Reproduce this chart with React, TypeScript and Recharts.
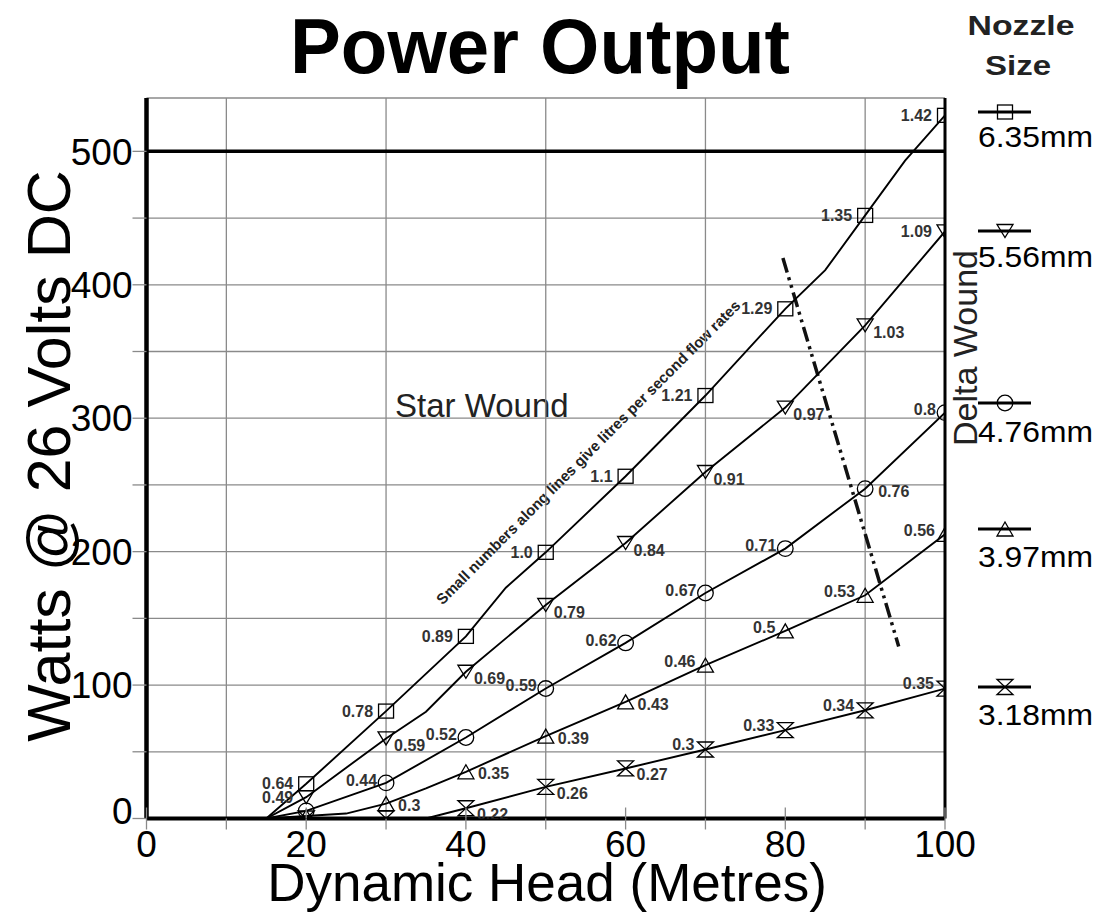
import React from "react";
import {
  CartesianGrid,
  ComposedChart,
  Line,
  ReferenceLine,
  Scatter,
  XAxis,
  YAxis,
} from "recharts";

// head (metres) where the flow markers sit
const HEAD = [20, 30, 40, 50, 60, 70, 80, 90, 100];

// 6.35mm nozzle
const WATTS_635 = [26, 80.5, 136.5, 199.5, 256.5, 317, 382, 452, 527];
const FLOW_635 = ["0.64", "0.78", "0.89", "1.0", "1.1", "1.21", "1.29", "1.35", "1.42"];
const CURVE_HEAD_635 = [15, 20, 30, 40, 45, 50, 60, 70, 80, 85, 90, 95, 100];
const CURVE_WATTS_635 = [0, 26, 80.5, 136.5, 173, 199.5, 256.5, 317, 382, 411, 452, 493, 527];

// 5.56mm nozzle
const WATTS_556 = [16, 60, 110, 160, 206.5, 259.7, 308, 369.6, 440];
const FLOW_556 = ["0.49", "0.59", "0.69", "0.79", "0.84", "0.91", "0.97", "1.03", "1.09"];
const CURVE_HEAD_556 = [15, 20, 30, 35, 40, 50, 60, 70, 80, 90, 100];
const CURVE_WATTS_556 = [0, 16, 60, 80, 110, 160, 206.5, 259.7, 308, 369.6, 440];

// 4.76mm nozzle
const WATTS_476 = [5.7, 26.7, 60.7, 97.4, 131.6, 169, 202.3, 247.2, 304.2];
const FLOW_476 = ["", "0.44", "0.52", "0.59", "0.62", "0.67", "0.71", "0.76", "0.8"];
const CURVE_HEAD_476 = [15, 20, 30, 40, 50, 60, 70, 80, 90, 100];
const CURVE_WATTS_476 = [0, 5.7, 26.7, 60.7, 97.4, 131.6, 169, 202.3, 247.2, 304.2];

// 3.97mm nozzle
const WATTS_397 = [1.5, 11.2, 35, 61.7, 87.4, 114.9, 140.6, 167.3, 213];
const FLOW_397 = ["", "0.3", "0.35", "0.39", "0.43", "0.46", "0.5", "0.53", "0.56"];
const CURVE_HEAD_397 = [15, 25, 30, 35, 40, 50, 60, 70, 80, 90, 100];
const CURVE_WATTS_397 = [0, 3.7, 11.2, 22.5, 35, 61.7, 87.4, 114.9, 140.6, 167.3, 213];

// 3.18mm nozzle
const WATTS_318 = [0, 0, 7.7, 23.7, 37.5, 51.7, 66.2, 81.1, 97.4];
const FLOW_318 = ["", "", "0.22", "0.26", "0.27", "0.3", "0.33", "0.34", "0.35"];
const CURVE_HEAD_318 = [35, 40, 50, 60, 70, 80, 90, 100];
const CURVE_WATTS_318 = [0, 7.7, 23.7, 37.5, 51.7, 66.2, 81.1, 97.4];

const X_TICKS = [0, 10, 20, 30, 40, 50, 60, 70, 80, 90, 100];
const X_GRID = [10, 30, 50, 70, 90];
const Y_TICKS = [0, 50, 100, 150, 200, 250, 300, 350, 400, 450, 500];

// star / delta wound split line
const SPLIT_HEAD = [79.7, 94.2];
const SPLIT_WATTS = [420, 129];

const FONT = "'Liberation Sans', Arial, Helvetica, sans-serif";
const GRID = "#8a8a8a";

type Kind = "square" | "down" | "circle" | "up" | "bowtie";

// label side per marker and offsets (layout only)
const SERIES = [
  { name: "6.35mm", kind: "square" as Kind, head: CURVE_HEAD_635, watts: CURVE_WATTS_635, marks: WATTS_635, flow: FLOW_635, sides: "LLLLLLLLL", L: [-13, 0], R: [10, 0], legendY: 112, textY: 147 },
  { name: "5.56mm", kind: "down" as Kind, head: CURVE_HEAD_556, watts: CURVE_WATTS_556, marks: WATTS_556, flow: FLOW_556, sides: "LRRRRRRRL", L: [-13, 0], R: [8, 7], legendY: 231, textY: 267 },
  { name: "4.76mm", kind: "circle" as Kind, head: CURVE_HEAD_476, watts: CURVE_WATTS_476, marks: WATTS_476, flow: FLOW_476, sides: "LLLLLLLRL", L: [-9, -3], R: [13, 3], legendY: 403, textY: 442 },
  { name: "3.97mm", kind: "up" as Kind, head: CURVE_HEAD_397, watts: CURVE_WATTS_397, marks: WATTS_397, flow: FLOW_397, sides: "RRRRRLLLL", L: [-10, -4], R: [12, 2], legendY: 529, textY: 567 },
  { name: "3.18mm", kind: "bowtie" as Kind, head: CURVE_HEAD_318, watts: CURVE_WATTS_318, marks: WATTS_318, flow: FLOW_318, sides: "RRRRRLLLL", L: [-11, -5], R: [11, 6], legendY: 687, textY: 725 },
];

function Marker({ kind, x, y }: { kind: Kind; x: number; y: number }) {
  const st = { fill: "none", stroke: "#000", strokeWidth: 1.3 };
  switch (kind) {
    case "square":
      return <rect x={x - 7.5} y={y - 7} width={15} height={14} {...st} />;
    case "down":
      return <path d={`M${x - 8},${y - 6.5} L${x + 8},${y - 6.5} L${x},${y + 6.5} Z`} {...st} />;
    case "up":
      return <path d={`M${x - 8},${y + 7} L${x + 8},${y + 7} L${x},${y - 7} Z`} {...st} />;
    case "circle":
      return <circle cx={x} cy={y} r={7.8} {...st} />;
    default:
      return <path d={`M${x - 8},${y - 7.5} L${x + 8},${y - 7.5} L${x - 8},${y + 7.5} L${x + 8},${y + 7.5} Z`} {...st} />;
  }
}

function HeadTick({ x, y, payload }: any) {
  const v = payload.value;
  if (v % 20 !== 0) return null;
  return (
    <g>
      <line x1={x} x2={x} y1={y - 23} y2={y - 12} stroke={GRID} strokeWidth={1.3} />
      <text x={x} y={y} dy="0.71em" textAnchor="middle" fontSize={37} fontFamily={FONT} fill="#000">
        {v}
      </text>
    </g>
  );
}

function WattTick({ x, y, payload }: any) {
  const v = payload.value;
  if (v % 100 !== 0) return null;
  return (
    <text x={x} y={y + (v === 0 ? -8 : 0)} dy="0.355em" textAnchor="end" fontSize={37} fontFamily={FONT} fill="#000">
      {v}
    </text>
  );
}

export default function App() {
  return (
    <div style={{ position: "absolute", left: 0, top: 0, width: 1104, height: 914, background: "#fff" }}>
      <ComposedChart width={1104} height={914} margin={{ top: 98, right: 159, bottom: 55.5, left: 86.5 }}>
        <CartesianGrid vertical={false} stroke={GRID} strokeWidth={1.3} />
        {X_GRID.map((g) => (
          <ReferenceLine key={g} x={g} stroke={GRID} strokeWidth={1.3} />
        ))}
        <ReferenceLine y={500} stroke="#000" strokeWidth={3.5} />
        <ReferenceLine x={100} stroke="#000" strokeWidth={3} />
        <XAxis
          type="number"
          dataKey="x"
          domain={[0, 100]}
          ticks={X_TICKS}
          height={40}
          tickSize={11}
          tickMargin={1}
          axisLine={{ stroke: "#000", strokeWidth: 4 }}
          tickLine={{ stroke: GRID, strokeWidth: 1.3 }}
          tick={<HeadTick />}
          interval={0}
          allowDataOverflow
        />
        <YAxis
          type="number"
          dataKey="y"
          domain={[0, 540]}
          ticks={Y_TICKS}
          width={60}
          tickSize={14}
          tickMargin={0}
          axisLine={{ stroke: "#000", strokeWidth: 4.5 }}
          tickLine={{ stroke: GRID, strokeWidth: 1.3 }}
          tick={<WattTick />}
          interval={0}
          allowDataOverflow
        />
        <ReferenceLine
          segment={[
            { x: SPLIT_HEAD[0], y: SPLIT_WATTS[0] },
            { x: SPLIT_HEAD[1], y: SPLIT_WATTS[1] },
          ]}
          stroke="#111"
          strokeWidth={3.5}
          strokeDasharray="15 5 3 5 3 5"
        />
        {SERIES.map((s) => (
          <Line
            key={"l" + s.name}
            data={s.head.map((x, i) => ({ x, y: s.watts[i] }))}
            dataKey="y"
            type="linear"
            stroke="#000"
            strokeWidth={1.9}
            dot={false}
            activeDot={false}
            isAnimationActive={false}
          />
        ))}
        {SERIES.map((s) => (
          <Scatter
            key={"s" + s.name}
            data={HEAD.map((x, i) => ({ x, y: s.marks[i], flow: s.flow[i], side: s.sides[i] }))}
            isAnimationActive={false}
            shape={(p: any) => {
              const off = p.payload.side === "L" ? s.L : s.R;
              return (
                <g>
                  <Marker kind={s.kind} x={p.cx} y={p.cy} />
                  {p.payload.flow && (
                    <text
                      x={p.cx + off[0]}
                      y={p.cy + off[1]}
                      dy="0.355em"
                      textAnchor={p.payload.side === "L" ? "end" : "start"}
                      fontSize={16}
                      fontWeight="bold"
                      fontFamily={FONT}
                      fill="#333"
                    >
                      {p.payload.flow}
                    </text>
                  )}
                </g>
              );
            }}
          />
        ))}

        <text x={540} y={73} textAnchor="middle" fontSize={78} fontWeight="bold" fontFamily={FONT} fill="#000" textLength={500} lengthAdjust="spacingAndGlyphs">
          Power Output
        </text>
        <text x={1021} y={35} textAnchor="middle" fontSize={28} fontWeight="bold" fontFamily={FONT} fill="#222" textLength={107} lengthAdjust="spacingAndGlyphs">
          Nozzle
        </text>
        <text x={1018} y={75} textAnchor="middle" fontSize={28} fontWeight="bold" fontFamily={FONT} fill="#222" textLength={66} lengthAdjust="spacingAndGlyphs">
          Size
        </text>
        <text x={547} y={901} textAnchor="middle" fontSize={53} fontFamily={FONT} fill="#000">
          Dynamic Head (Metres)
        </text>
        <text x={70} y={456} textAnchor="middle" fontSize={61} fontFamily={FONT} fill="#000" transform="rotate(-90 70 456)">
          Watts @ 26 Volts DC
        </text>
        <text x={395} y={417} fontSize={33} fontFamily={FONT} fill="#222">
          Star Wound
        </text>
        <text x={977} y={348} textAnchor="middle" fontSize={34} fontFamily={FONT} fill="#222" transform="rotate(-90 977 348)">
          Delta Wound
        </text>
        <text
          x={592}
          y={456}
          textAnchor="middle"
          fontSize={15}
          fontWeight="bold"
          fontFamily={FONT}
          fill="#222"
          transform="rotate(-45 592 456)"
        >
          Small numbers along lines give litres per second flow rates
        </text>
        {SERIES.map((s) => (
          <g key={"g" + s.name}>
            <line x1={978} x2={1031} y1={s.legendY} y2={s.legendY} stroke="#000" strokeWidth={3} />
            <Marker kind={s.kind} x={1005} y={s.legendY} />
            <text x={978} y={s.textY} fontSize={30} fontFamily={FONT} fill="#000" textLength={115} lengthAdjust="spacingAndGlyphs">
              {s.name}
            </text>
          </g>
        ))}
      </ComposedChart>
    </div>
  );
}
